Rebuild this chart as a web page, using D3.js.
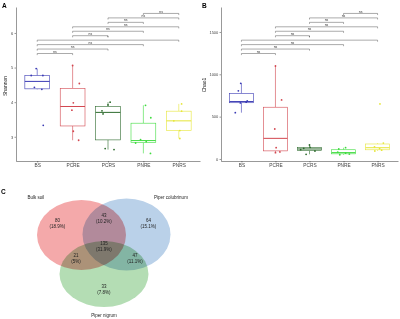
<!DOCTYPE html>
<html>
<head>
<meta charset="utf-8">
<script src="https://cdn.jsdelivr.net/npm/d3@7"></script>
<style>
  body { margin: 0; background: #fff; }
  svg { display: block; }
  text { font-family: "Liberation Sans", Arial, sans-serif; }
</style>
</head>
<body>
<div id="chart"></div>
<script>
// groups and colours
const groups = ['BS', 'PCRE', 'PCRS', 'PNRE', 'PNRS'];
const groupColors = ['#3a3ab4', '#d2464f', '#2e6b2e', '#3edc3e', '#e6e638'];

// Shannon values per sample (panel A)
const shannonValues = [
    [4.97, 4.77, 4.77, 4.43, 4.37, 3.33],
    [5.06, 4.54, 3.98, 3.77, 3.16, 2.90],
    [4.00, 3.92, 3.75, 3.66, 2.66, 2.63],
    [3.91, 3.55, 2.92, 2.86, 2.82, 2.52],
    [3.95, 3.74, 3.46, 3.18, 2.95]
];
// horizontal jitter of the points, in category steps
const shannonJitter = [
    [-0.03, -0.17, 0.16, -0.08, 0.13, 0.17],
    [0.00, 0.19, 0.02, -0.02, 0.02, 0.17],
    [0.06, 0.00, -0.17, -0.14, -0.08, 0.17],
    [0.06, 0.21, -0.08, 0.08, -0.22, 0.20],
    [0.08, 0.08, -0.14, 0.03, 0.03]
];

// Chao1 values per sample (panel B)
const chaoValues = [
    [894, 805, 685, 671, 662, 547],
    [1098, 697, 354, 133, 83, 74],
    [165, 138, 126, 110, 94, 55],
    [133, 118, 82, 68, 58, 50],
    [650, 188, 144, 122, 104, 94]
];
const chaoJitter = [
    [-0.02, -0.09, 0.17, 0.14, -0.03, -0.18],
    [0.00, 0.18, -0.02, 0.02, 0.13, 0.00],
    [0.00, 0.02, -0.17, -0.26, 0.16, -0.10],
    [0.06, -0.14, -0.17, 0.06, 0.17, -0.11],
    [0.07, 0.17, -0.09, 0.06, 0.12, -0.08]
];

const shannonTicks = [3, 4, 5, 6];
const chaoTicks = [0, 500, 1000, 1500];

// pairwise comparisons, stacked from bottom to top
const comparisons = [
    ['BS', 'PCRE'], ['BS', 'PCRS'], ['BS', 'PNRE'], ['BS', 'PNRS'],
    ['PCRE', 'PCRS'], ['PCRE', 'PNRE'], ['PCRE', 'PNRS'],
    ['PCRS', 'PNRE'], ['PCRS', 'PNRS'], ['PNRE', 'PNRS']
];
const comparisonLabels = ['ns', 'ns', 'ns', '*', 'ns', 'ns', 'ns', 'ns', 'ns', 'ns'];

// Venn diagram (panel C)
const vennSets = ['Bulk soil', 'Piper colubrinum', 'Piper nigrum'];
const vennRegions = ['bulk', 'bulk+col', 'col', 'all', 'bulk+nig', 'col+nig', 'nig'];
const vennCounts = [80, 43, 64, 135, 21, 47, 33];
const vennColors = ['#f4a9aa', '#bad1e9', '#b4ddb4'];

const width = 400, height = 319;
const svg = d3.select('#chart').append('svg')
    .attr('width', width)
    .attr('height', height);

svg.append('rect').attr('width', width).attr('height', height).attr('fill', '#fff');

const plotTop = 7, plotBottom = 161;

function boxStats(vals) {
    const s = vals.slice().sort(d3.ascending);
    const q1 = d3.quantile(s, 0.25);
    const med = d3.quantile(s, 0.5);
    const q3 = d3.quantile(s, 0.75);
    const iqr = q3 - q1;
    const lo = d3.min(s.filter(v => v >= q1 - 1.5 * iqr));
    const hi = d3.max(s.filter(v => v <= q3 + 1.5 * iqr));
    return { q1, med, q3, lo, hi };
}

function styleAxis(g) {
    g.select('.domain').attr('stroke', '#333').attr('stroke-width', 0.5);
    g.selectAll('.tick line').attr('stroke', '#333').attr('stroke-width', 0.5);
    g.selectAll('.tick text').attr('fill', '#444');
}

function boxPanel(p) {
    const g = svg.append('g');

    const x = d3.scalePoint()
        .domain(groups)
        .range([p.x0, p.x1])
        .padding(0.6);
    const step = x.step();
    const boxW = step * 0.7;

    const y = d3.scaleLinear()
        .domain(p.domain)
        .range([plotBottom, plotTop]);

    // axes
    const xAxis = g.append('g')
        .attr('transform', `translate(0,${plotBottom})`)
        .call(d3.axisBottom(x).tickSize(1.5).tickSizeOuter(0).tickPadding(1.5));
    xAxis.selectAll('.tick text').attr('font-size', 4.8);
    styleAxis(xAxis);

    const yAxis = g.append('g')
        .attr('transform', `translate(${p.x0},0)`)
        .call(d3.axisLeft(y)
            .tickValues(p.ticks)
            .tickFormat(d3.format('d'))
            .tickSize(1.5)
            .tickSizeOuter(0)
            .tickPadding(1.2));
    yAxis.selectAll('.tick text').attr('font-size', 4);
    styleAxis(yAxis);

    // y title
    g.append('text')
        .attr('transform', `translate(${p.titleX},${p.titleY}) rotate(-90)`)
        .attr('text-anchor', 'middle')
        .attr('font-size', 5)
        .attr('fill', '#222')
        .text(p.title);

    // panel letter
    svg.append('text')
        .attr('x', p.letterX)
        .attr('y', 8)
        .attr('font-size', 6.5)
        .attr('font-weight', 'bold')
        .text(p.letter);

    // boxes
    groups.forEach((grp, i) => {
        const st = boxStats(p.values[i]);
        const cx = x(grp);
        const col = groupColors[i];
        const bg = g.append('g');

        bg.append('line')
            .attr('x1', cx).attr('x2', cx)
            .attr('y1', y(st.q3)).attr('y2', y(st.hi))
            .attr('stroke', col).attr('stroke-width', 0.6);
        bg.append('line')
            .attr('x1', cx).attr('x2', cx)
            .attr('y1', y(st.q1)).attr('y2', y(st.lo))
            .attr('stroke', col).attr('stroke-width', 0.6);
        bg.append('rect')
            .attr('x', cx - boxW / 2)
            .attr('y', y(st.q3))
            .attr('width', boxW)
            .attr('height', Math.max(0.3, y(st.q1) - y(st.q3)))
            .attr('fill', '#fff')
            .attr('stroke', col)
            .attr('stroke-width', 0.6);
        bg.append('line')
            .attr('x1', cx - boxW / 2).attr('x2', cx + boxW / 2)
            .attr('y1', y(st.med)).attr('y2', y(st.med))
            .attr('stroke', col).attr('stroke-width', 1);

        // jittered points
        bg.selectAll('circle')
            .data(p.values[i])
            .join('circle')
            .attr('cx', (d, j) => cx + p.jitter[i][j] * step)
            .attr('cy', d => y(d))
            .attr('r', 0.9)
            .attr('fill', col);
    });

    // significance brackets
    const bracketBase = 53.5, bracketGap = 4.45;
    comparisons.forEach((pair, i) => {
        const by = bracketBase - i * bracketGap;
        const xa = x(pair[0]), xb = x(pair[1]);
        g.append('path')
            .attr('d', `M${xa},${by + 1.6}V${by}H${xb}V${by + 1.6}`)
            .attr('fill', 'none')
            .attr('stroke', '#444')
            .attr('stroke-width', 0.45);
        g.append('text')
            .attr('x', (xa + xb) / 2)
            .attr('y', by - 0.9)
            .attr('text-anchor', 'middle')
            .attr('font-size', 3.4)
            .attr('fill', '#333')
            .text(comparisonLabels[i]);
    });
}

boxPanel({
    x0: 16, x1: 200,
    domain: [2.3, 6.75],
    ticks: shannonTicks,
    values: shannonValues,
    jitter: shannonJitter,
    title: 'Shannon', titleX: 7, titleY: 86,
    letter: 'A', letterX: 2
});

boxPanel({
    x0: 221, x1: 398,
    domain: [-24, 1795],
    ticks: chaoTicks,
    values: chaoValues,
    jitter: chaoJitter,
    title: 'Chao1', titleX: 206, titleY: 85,
    letter: 'B', letterX: 202
});

// ---- Venn diagram ----
const venn = svg.append('g').style('isolation', 'isolate');
const ellipses = [
    { cx: 81.5, cy: 235, rx: 44.5, ry: 35 },
    { cx: 126.5, cy: 234.5, rx: 44, ry: 36 },
    { cx: 104, cy: 274, rx: 44.5, ry: 33 }
];
venn.selectAll('ellipse')
    .data(ellipses)
    .join('ellipse')
    .attr('cx', d => d.cx)
    .attr('cy', d => d.cy)
    .attr('rx', d => d.rx)
    .attr('ry', d => d.ry)
    .attr('fill', (d, i) => vennColors[i])
    .style('mix-blend-mode', 'multiply');

const total = d3.sum(vennCounts);
const regionPos = {
    'bulk': [57.5, 220],
    'bulk+col': [104, 215],
    'col': [148.5, 220],
    'all': [104, 243],
    'bulk+nig': [76, 255],
    'col+nig': [135, 255],
    'nig': [104, 286]
};
vennRegions.forEach((r, i) => {
    const [px, py] = regionPos[r];
    const pct = +(vennCounts[i] / total * 100).toFixed(1);
    const t = svg.append('text')
        .attr('text-anchor', 'middle')
        .attr('font-size', 4.5)
        .attr('fill', '#222');
    t.append('tspan').attr('x', px).attr('y', py + 1.5).text(vennCounts[i]);
    t.append('tspan').attr('x', px).attr('y', py + 8).text(`(${pct}%)`);
});

const setLabelPos = [[36, 198.5], [171, 198.5], [104, 316.5]];
vennSets.forEach((s, i) => {
    svg.append('text')
        .attr('x', setLabelPos[i][0])
        .attr('y', setLabelPos[i][1])
        .attr('text-anchor', 'middle')
        .attr('font-size', 4.5)
        .attr('fill', '#222')
        .text(s);
});

svg.append('text')
    .attr('x', 1)
    .attr('y', 194)
    .attr('font-size', 6.5)
    .attr('font-weight', 'bold')
    .text('C');
</script>
</body>
</html>
